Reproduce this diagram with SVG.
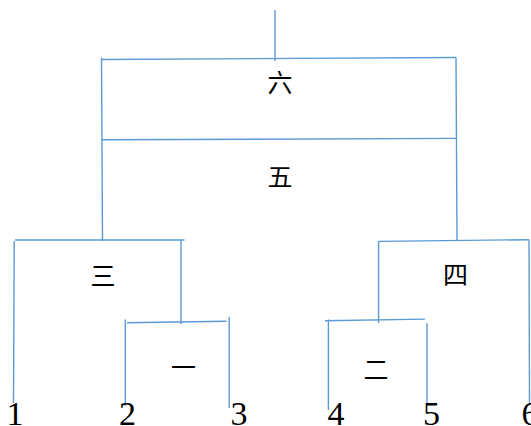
<svg xmlns="http://www.w3.org/2000/svg" width="531" height="426" viewBox="0 0 531 426">
<style>
.c line{stroke:#5B9BD5;stroke-width:1.4;fill:none}
.h{font-family:"Noto Sans CJK SC","Noto Sans CJK JP",sans-serif;font-size:25px;fill:#000;text-anchor:middle;dominant-baseline:central}
.d{font-family:"Liberation Serif",serif;font-size:34px;fill:#000;text-anchor:middle}
</style>
<rect width="531" height="426" fill="#fff"/>
<g id="connectors" class="c">
<line x1="275" y1="10" x2="275" y2="61"/>
<line x1="102" y1="59.5" x2="456" y2="57.5"/>
<line x1="101.5" y1="57.5" x2="102.5" y2="241"/>
<line x1="456" y1="57.5" x2="457" y2="240"/>
<line x1="102" y1="139.8" x2="457" y2="138.4"/>
<line x1="15" y1="240" x2="184.5" y2="240"/>
<line x1="14.2" y1="241" x2="13.5" y2="403"/>
<line x1="181" y1="240" x2="181" y2="324"/>
<line x1="379" y1="241.4" x2="529" y2="239.7"/>
<line x1="378.6" y1="241" x2="378.6" y2="323"/>
<line x1="529" y1="239.7" x2="529.5" y2="403"/>
<line x1="127" y1="322.8" x2="226.5" y2="321.2"/>
<line x1="125.3" y1="319.5" x2="125.3" y2="406"/>
<line x1="229.2" y1="317" x2="229.2" y2="408"/>
<line x1="325" y1="320.8" x2="425" y2="319.1"/>
<line x1="328.4" y1="319.5" x2="328.4" y2="410"/>
<line x1="427" y1="323.2" x2="427" y2="406"/>
</g>
<g id="n6"><text class="h" x="280" y="80.5">六</text></g>
<g id="n5"><text class="h" x="280" y="174.5">五</text></g>
<g id="n3"><text class="h" x="103" y="274">三</text></g>
<g id="n4"><text class="h" x="455.5" y="272.5">四</text></g>
<g id="n1"><text class="h" x="183.5" y="366">一</text></g>
<g id="n2"><text class="h" x="376" y="367.5">二</text></g>
<g id="leaf1"><text class="d" x="15" y="424.5">1</text></g>
<g id="leaf2"><text class="d" x="127.5" y="424.5">2</text></g>
<g id="leaf3"><text class="d" x="239" y="424.5">3</text></g>
<g id="leaf4"><text class="d" x="336" y="424.5">4</text></g>
<g id="leaf5"><text class="d" x="431.5" y="424.5">5</text></g>
<g id="leaf6"><text class="d" x="530" y="424.5">6</text></g>
</svg>
